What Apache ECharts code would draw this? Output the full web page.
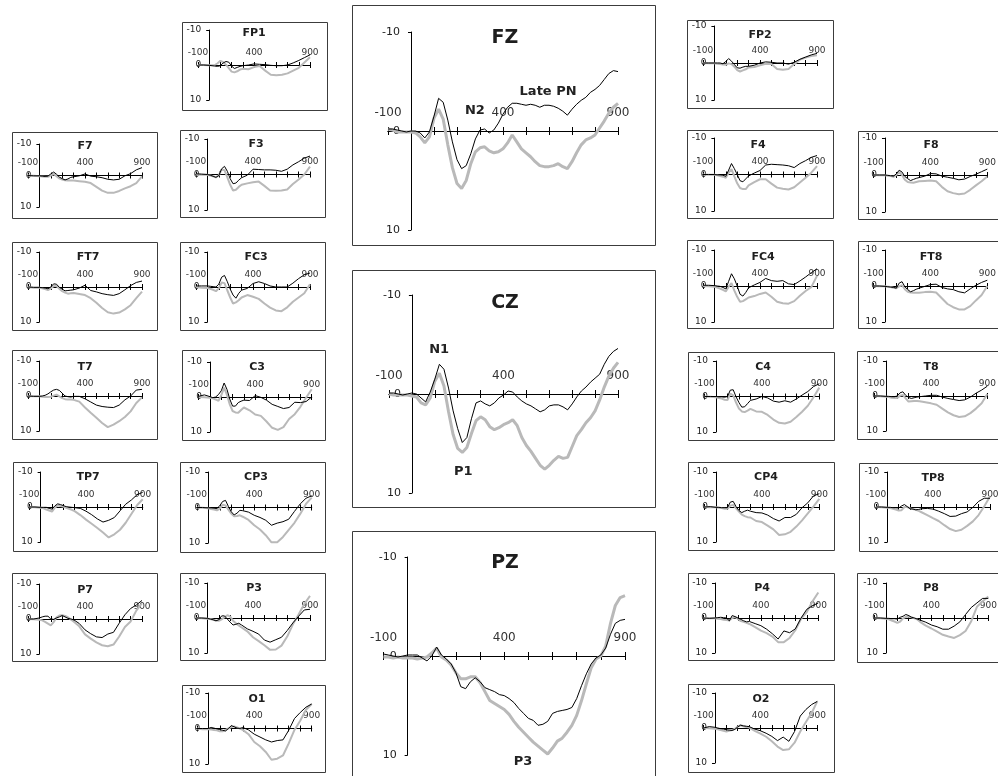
<!DOCTYPE html>
<html><head><meta charset="utf-8">
<script src="https://cdn.jsdelivr.net/npm/echarts@6/dist/echarts.min.js"></script>
<style>html,body{margin:0;padding:0;background:#fff}#chart{width:998px;height:776px}</style>
</head><body><div id="chart"></div><script>
// time axes (ms)
const tBig = [-100,-80,-60,-40,-20,0,20,40,60,80,100,120,140,160,180,200,220,240,260,280,300,320,340,360,380,400,420,440,460,480,500,520,540,560,580,600,620,640,660,680,700,720,740,760,780,800,820,840,860,880,900];
const tSmall = [-100,-50,0,25,50,75,100,125,150,175,200,225,250,275,300,350,400,450,500,550,600,650,700,750,800,850,900];
const xTickLabels = [-100, 400, 900];
const yTickLabels = [-10, 0, 10];

// central electrodes (black thin / grey thick)
const FZ_black = [-0.2,-0.2,-0.1,0.0,0.1,0.0,0.0,0.2,0.7,0.1,-1.5,-3.3,-2.9,-1.1,1.1,2.9,3.8,3.5,2.3,0.8,-0.1,-0.2,0.2,-0.1,-0.8,-1.7,-2.4,-2.8,-2.8,-2.7,-2.6,-2.7,-2.6,-2.4,-2.6,-2.6,-2.5,-2.3,-2.0,-1.6,-2.2,-2.7,-3.1,-3.4,-3.9,-4.2,-4.6,-5.2,-5.8,-6.1,-6.0];
const FZ_grey = [-0.2,-0.1,0.1,0.1,0.1,0.1,0.2,0.6,1.2,0.6,-1.3,-2.2,-1.2,1.4,3.7,5.3,5.8,5.0,3.3,2.1,1.7,1.6,2.0,2.2,2.1,1.8,1.2,0.4,1.1,1.8,2.2,2.6,3.1,3.5,3.6,3.6,3.5,3.3,3.6,3.8,3.1,2.2,1.4,0.9,0.7,0.4,-0.3,-1.0,-1.8,-2.4,-2.8];
const CZ_black = [-0.1,-0.1,0.0,0.1,0.0,-0.1,0.0,0.4,0.8,-0.2,-1.5,-3.0,-2.5,-0.6,1.7,3.5,4.9,4.4,2.5,0.9,0.7,1.0,1.2,0.9,0.4,0.1,-0.3,-0.2,0.3,0.7,1.0,1.2,1.5,1.8,1.6,1.2,1.1,1.1,1.3,1.6,1.0,0.3,-0.3,-0.7,-1.2,-1.6,-2.0,-3.0,-3.8,-4.3,-4.6];
const CZ_grey = [0.0,0.1,0.1,0.1,0.1,0.2,0.3,0.9,1.1,0.4,-1.3,-2.1,-0.8,1.8,4.1,5.5,5.9,5.4,4.0,2.7,2.3,2.6,3.3,3.6,3.4,3.1,2.9,2.6,3.2,4.4,5.2,5.8,6.5,7.2,7.6,7.2,6.7,6.3,6.5,6.4,5.3,4.2,3.6,2.9,2.4,1.7,0.6,-0.7,-1.8,-2.6,-3.2];
const PZ_black = [-0.2,-0.1,0.0,0.1,0.0,-0.1,-0.1,-0.1,0.2,0.5,0.0,-0.9,-0.1,0.3,0.8,1.7,3.1,3.3,2.6,2.2,2.6,3.2,3.4,3.6,3.9,4.0,4.3,4.7,5.3,5.8,6.3,6.5,7.0,6.9,6.6,5.8,5.6,5.5,5.4,5.2,4.3,3.0,1.8,0.8,0.2,-0.1,-0.8,-2.2,-3.3,-3.6,-3.7];
const PZ_grey = [0.1,0.1,0.2,0.1,0.2,0.2,0.2,0.3,0.2,0.1,-0.3,-0.8,0.1,0.4,0.9,1.7,2.3,2.3,2.1,2.1,2.7,3.6,4.5,4.8,5.1,5.4,5.9,6.6,7.2,7.7,8.2,8.7,9.1,9.5,9.9,9.3,8.6,8.3,7.7,7.0,6.0,4.5,2.8,1.2,0.3,0.0,-1.0,-3.3,-5.1,-5.9,-6.1];

// lateral electrodes
const FP1_black = [0,0,0.1,0.2,0.3,0.4,0.2,-0.6,-1.0,-0.8,0.3,1.0,0.7,0.4,0.2,0.0,-0.3,-0.2,-0.1,0.1,0.2,0.2,0.0,-0.6,-1.3,-2.1,-2.9];
const FP1_grey = [0,0,0.1,0.1,0.0,-0.5,-1.2,-0.8,-0.1,0.9,1.9,2.1,1.8,1.3,1.1,1.2,0.6,0.3,1.6,2.8,2.9,2.8,2.4,1.6,0.8,-0.7,-2.2];
const F7_black = [0,0.1,0.1,0.2,0.3,0.2,-0.5,-1.1,-0.4,0.5,1.0,1.4,1.1,0.6,0.4,0.1,-0.5,0.2,0.4,0.7,1.2,1.4,1.2,0.1,-0.6,-1.8,-2.5];
const F7_grey = [0,0.1,0.2,0.3,0.4,0.4,0.0,-0.5,0.2,0.9,1.3,1.5,1.6,1.6,1.6,1.8,2.0,2.4,3.6,4.8,5.5,5.5,4.9,4.1,3.4,2.4,0.3];
const F3_black = [-0.2,-0.1,0.0,0.2,0.5,0.8,0.3,-1.6,-2.3,-0.9,1.2,2.6,2.4,1.6,0.9,0.2,-1.5,-1.4,-1.3,-1.3,-1.2,-0.9,-1.5,-2.7,-3.6,-4.6,-5.2];
const F3_grey = [0,0.1,0.1,0.3,0.5,0.8,0.2,-1.4,-1.2,0.8,2.9,4.5,4.3,3.5,2.9,2.5,2.2,2.0,3.2,4.5,4.6,4.5,4.2,2.7,1.4,0.0,-2.2];
const FT7_black = [0,0.1,0.1,0.2,0.3,0.5,0.0,-0.9,-0.8,0.1,0.6,1.1,1.0,0.9,0.8,0.3,-0.5,1.0,1.4,1.9,2.2,2.4,1.9,0.8,-0.4,-1.3,-1.7];
const FT7_grey = [0,0.2,0.2,0.4,0.6,0.9,0.4,-0.3,-0.3,0.5,1.2,1.6,1.9,1.8,1.7,2.0,2.3,3.2,4.5,6.0,7.2,7.6,7.3,6.4,5.2,3.2,1.3];
const FC3_black = [-0.3,-0.3,-0.3,-0.2,-0.1,0.0,-0.8,-2.8,-3.3,-1.5,0.6,2.3,3.2,1.8,0.9,0.4,-1.0,-1.5,-1.0,-0.3,0.0,0.0,0.0,-1.1,-2.4,-3.5,-4.0];
const FC3_grey = [0,0.2,0.3,0.5,0.8,1.2,0.4,-1.3,-1.1,1.0,3.0,4.7,4.4,3.8,3.0,2.3,2.8,3.4,4.7,5.9,6.7,6.9,5.8,4.2,3.0,1.8,-0.8];
const T7_black = [0,0.1,0.1,0.0,-0.2,-0.6,-1.2,-1.7,-1.9,-1.6,-0.8,0.0,0.2,0.3,0.1,0.1,0.8,1.7,2.6,3.0,3.2,3.3,2.6,1.1,0.0,-1.7,-1.9];
const T7_grey = [0,0.1,0.1,0.2,0.3,0.3,0.2,-0.1,-0.4,0.1,0.6,0.9,1.0,1.0,1.1,1.6,3.3,4.8,6.2,7.7,8.9,8.2,7.2,6.0,4.4,2.0,0.4];
const C3_black = [-0.2,-0.6,-0.1,0.2,0.0,-0.7,-1.8,-4.0,-2.2,0.6,2.6,2.6,1.6,1.2,0.9,1.0,-0.4,0.1,0.9,2.1,2.7,3.3,3.0,1.5,1.6,1.3,0.0];
const C3_grey = [0,0.1,0.2,0.4,0.7,1.1,-0.5,-2.7,-0.6,2.1,4.0,4.4,4.5,3.7,3.0,3.8,5.0,5.4,7.0,8.8,9.4,8.6,6.3,4.9,2.8,0.2,-2.2];
const TP7_black = [0,0,0.1,0.1,0.1,0.4,0.6,-0.3,-0.9,-0.7,-0.4,-0.1,0.0,0.1,0.2,0.4,1.2,2.2,3.4,4.3,3.8,3.0,1.1,-0.8,-2.0,-3.5,-4.2];
const TP7_grey = [0,0.1,0.2,0.4,0.7,1.0,1.3,0.2,-0.5,-0.3,-0.1,0.2,0.5,0.8,1.2,2.3,3.6,4.8,6.0,7.3,8.7,7.8,6.5,4.5,2.0,-0.5,-2.2];
const CP3_black = [0,0,0.1,0.1,0.2,0.3,-0.5,-1.7,-2.0,-0.3,1.2,2.1,1.6,0.8,0.9,1.3,2.2,2.8,3.6,5.0,4.4,4.0,3.3,1.1,-1.0,-2.6,-3.3];
const CP3_grey = [0,0.1,0.2,0.4,0.6,0.8,0.3,-0.8,-0.6,0.6,1.7,2.5,2.4,2.2,2.6,3.5,5.0,6.2,7.8,9.8,9.8,8.3,6.3,4.3,1.8,-1.0,-2.8];
const P7_black = [0,0,-0.3,-0.6,-0.8,-0.8,0.0,0.1,-0.3,-0.6,-1.0,-0.6,-0.2,0.0,0.2,1.3,3.1,4.2,5.1,5.3,4.3,3.8,1.2,-1.2,-3.0,-4.0,-5.3];
const P7_grey = [0,0.1,0.2,0.4,0.8,1.3,1.8,0.9,-0.5,-1.0,-1.1,-0.9,-0.5,0.1,0.7,2.1,4.4,5.6,6.7,7.5,7.8,7.3,5.0,2.3,0.7,-2.4,-4.5];
const P3_black = [0,0,0.1,0.3,0.5,0.8,0.5,-0.6,-0.6,0.3,1.2,2.0,1.8,1.5,2.0,3.1,3.8,4.6,6.3,6.9,6.2,5.5,3.6,1.4,-0.5,-2.3,-2.5];
const P3_grey = [0,0.1,0.2,0.3,0.5,0.7,0.8,0.4,-0.2,-0.8,-0.4,0.8,1.5,2.1,2.7,3.8,5.5,6.6,7.8,9.1,9.0,7.9,5.3,1.8,-1.0,-4.0,-6.3];
const O1_black = [0,0,0.0,-0.3,-0.1,0.1,0.3,0.5,0.7,0.0,-0.8,-0.5,-0.1,0.0,-0.3,0.4,1.6,2.4,3.2,3.8,3.4,3.2,0.5,-2.8,-4.5,-6.0,-6.9];
const O1_grey = [0,0.2,0.2,0.3,0.4,0.5,0.8,0.8,0.4,0.0,-0.4,-0.6,-0.3,0.0,0.4,1.6,3.8,5.0,6.6,8.8,8.5,7.6,4.2,0.4,-2.2,-5.3,-6.9];
const FP2_black = [0,0,0.0,0.0,0.0,0.2,-0.4,-1.2,-0.5,0.4,1.3,1.4,1.1,0.9,0.9,0.6,0.0,-0.3,-0.2,0.0,0.0,0.3,-0.2,-1.0,-1.6,-2.2,-2.6];
const FP2_grey = [0,0.1,0.1,0.2,0.3,0.4,0.5,0.1,0.3,1.0,1.9,2.3,2.0,1.7,1.2,1.1,0.6,0.2,0.3,1.6,1.8,1.6,0.3,-0.9,-1.5,-1.9,-2.1];
const F4_black = [0,0,0.0,0.1,0.1,0.2,0.5,-1.2,-3.0,-1.6,0.0,1.7,2.0,1.2,0.4,-0.4,-1.1,-2.6,-2.8,-2.7,-2.6,-2.4,-1.9,-3.0,-3.8,-4.7,-5.2];
const F4_grey = [0,0.1,0.1,0.2,0.4,0.6,0.9,-0.5,-1.5,0.5,2.4,3.7,4.0,4.0,3.0,2.1,1.3,1.3,2.5,3.6,3.9,4.1,3.5,2.2,0.9,-0.5,-2.3];
const F8_black = [0,0,0.0,0.1,0.2,0.3,-0.3,-1.3,-0.8,0.4,1.0,1.5,1.2,0.9,0.7,0.3,-0.4,-0.3,0.3,0.6,0.9,1.3,1.1,0.4,-0.2,-0.9,-1.6];
const F8_grey = [0,0.1,0.1,0.2,0.3,0.5,0.0,-0.8,0.0,1.3,1.9,2.0,2.1,1.9,1.7,1.6,1.5,1.7,3.2,4.4,4.9,5.2,5.0,4.0,2.8,1.7,0.4];
const FC4_black = [-0.2,-0.2,-0.1,0.0,0.1,0.4,0.8,-1.3,-3.4,-2.0,0.0,2.3,2.8,1.8,0.5,-0.3,-1.0,-2.1,-1.5,-1.3,-1.5,-0.6,-0.4,-1.4,-2.5,-3.7,-4.8];
const FC4_grey = [0,0.1,0.2,0.4,0.7,1.1,1.5,0.2,-0.8,1.3,3.0,4.4,4.2,3.7,3.2,2.8,2.2,1.8,3.0,4.4,4.8,4.9,4.2,2.7,1.4,0.3,-2.8];
const FT8_black = [0,0,0.1,0.2,0.3,0.4,0.6,-0.8,-1.2,0.2,1.0,1.6,1.3,0.9,0.6,0.1,-0.4,-0.5,0.4,0.8,1.0,1.6,1.9,0.8,-0.2,-1.0,-1.6];
const FT8_grey = [0,0.1,0.1,0.2,0.3,0.5,0.6,0.1,-0.2,0.9,1.6,1.8,1.9,1.9,1.9,1.7,1.6,1.8,3.4,5.0,5.9,6.5,6.5,5.6,4.0,2.5,0.0];
const C4_black = [0,0,0.0,0.1,0.1,0.2,0.0,-1.8,-1.9,0.1,1.7,3.0,2.9,2.0,1.1,0.7,0.0,0.4,1.3,1.6,1.2,1.6,0.7,-0.4,-1.4,-2.8,-3.6];
const C4_grey = [0,0.1,0.2,0.4,0.6,0.9,1.0,-0.8,-0.3,1.7,3.4,4.2,4.4,4.0,3.5,4.2,4.3,5.2,6.5,7.4,7.6,7.1,5.8,4.3,2.6,0.2,-2.5];
const T8_black = [0,0,0.1,0.1,0.2,0.2,0.0,-0.9,-1.2,-0.2,0.4,0.7,0.5,0.3,0.2,0.0,-0.2,-0.2,0.3,0.7,1.0,1.3,1.1,0.3,-0.8,-1.7,-2.8];
const T8_grey = [0,0.1,0.2,0.3,0.5,0.6,0.6,-0.1,-0.3,0.7,1.6,1.5,1.4,1.4,1.5,1.8,2.1,2.5,3.6,4.7,5.5,6.0,5.8,4.9,3.6,2.1,-0.6];
const CP4_black = [0,-0.1,0.1,0.1,0.2,0.2,0.2,-1.4,-1.6,-0.1,1.0,1.6,1.2,0.9,1.2,1.6,1.7,2.3,3.3,4.0,3.0,3.0,2.1,0.2,-1.2,-3.2,-3.8];
const CP4_grey = [0,0.1,0.1,0.2,0.3,0.5,0.5,-0.4,-0.6,0.4,1.3,2.2,2.6,2.9,3.0,4.0,4.3,5.3,6.4,8.0,7.8,7.1,5.6,3.8,1.8,-0.2,-2.3];
const TP8_black = [0,0,0.1,0.1,0.2,0.2,0.3,-0.3,-0.7,-0.1,0.5,0.6,0.8,0.7,0.5,0.4,0.6,1.2,1.9,2.7,2.6,1.9,1.4,0.1,-1.6,-2.5,-2.5];
const TP8_grey = [0,0.1,0.2,0.3,0.5,0.7,1.0,0.9,0.0,0.0,0.4,0.6,0.8,1.1,1.5,2.3,3.2,4.0,5.2,6.3,6.9,6.5,5.4,4.1,2.3,-0.2,-3.0];
const P4_black = [0,0.1,0.0,-0.1,-0.2,-0.1,0.0,0.8,-0.7,-0.4,0.0,0.4,0.8,1.1,1.0,1.6,2.2,3.2,4.5,6.0,3.7,4.2,3.1,0.0,-2.5,-3.5,-4.3];
const P4_grey = [0,0.1,0.1,0.2,0.3,0.5,0.6,0.7,0.0,-0.3,0.3,0.9,1.1,1.4,1.7,2.6,3.6,4.3,5.3,6.9,6.9,5.7,3.5,0.2,-1.7,-4.8,-7.3];
const P8_black = [0,0,0.1,0.1,0.2,0.2,0.3,-0.2,-0.5,-1.0,-0.7,-0.2,0.0,0.3,0.6,1.2,2.0,2.5,3.2,3.2,2.3,1.1,-1.0,-3.0,-4.3,-5.6,-5.6];
const P8_grey = [0,0.1,0.2,0.4,0.7,1.0,1.4,1.0,0.1,-0.3,-0.4,-0.2,0.1,0.4,1.1,2.2,3.0,3.9,4.8,5.3,5.7,4.9,3.7,0.9,-3.2,-4.8,-6.1];
const O2_black = [0,-0.4,-0.2,0.0,0.2,0.3,0.5,0.6,0.7,0.4,-0.3,-0.8,-0.6,-0.5,-0.4,0.3,0.8,1.5,2.4,3.6,2.6,3.8,1.0,-3.4,-5.3,-6.7,-7.6];
const O2_grey = [0,0.1,0.2,0.4,0.6,0.8,1.0,0.8,0.6,0.2,-0.4,-0.8,-0.5,-0.3,-0.2,0.8,1.6,2.5,3.8,5.3,6.3,6.1,4.2,1.0,-1.7,-4.3,-7.6];

const waves = {
  FZ:[FZ_black,FZ_grey], CZ:[CZ_black,CZ_grey], PZ:[PZ_black,PZ_grey],
  FP1:[FP1_black,FP1_grey], F7:[F7_black,F7_grey], F3:[F3_black,F3_grey],
  FT7:[FT7_black,FT7_grey], FC3:[FC3_black,FC3_grey], T7:[T7_black,T7_grey],
  C3:[C3_black,C3_grey], TP7:[TP7_black,TP7_grey], CP3:[CP3_black,CP3_grey],
  P7:[P7_black,P7_grey], P3:[P3_black,P3_grey], O1:[O1_black,O1_grey],
  FP2:[FP2_black,FP2_grey], F4:[F4_black,F4_grey], F8:[F8_black,F8_grey],
  FC4:[FC4_black,FC4_grey], FT8:[FT8_black,FT8_grey], C4:[C4_black,C4_grey],
  T8:[T8_black,T8_grey], CP4:[CP4_black,CP4_grey], TP8:[TP8_black,TP8_grey],
  P4:[P4_black,P4_grey], P8:[P8_black,P8_grey], O2:[O2_black,O2_grey]
};

const annotations = [
  {ch:'FZ', text:'N2', t:278, v:-2.1},
  {ch:'FZ', text:'Late PN', t:596, v:-4.0},
  {ch:'CZ', text:'N1', t:119, v:-4.5},
  {ch:'CZ', text:'P1', t:224, v:7.8},
  {ch:'PZ', text:'P3', t:478, v:10, dy:7}
];

// layout (pixels): box [l,t,r,b], plot [xLeft(-100ms),xRight(900ms),yTop(-10),yBottom(10)], title [cx,cy]
const panels = [
  {ch:'FZ', big:true, box:[352,5,655,245], plot:[388,618,32,230], title:[505,38]},
  {ch:'CZ', big:true, box:[352,270,655,507], plot:[389,618,295,493], title:[505,303]},
  {ch:'PZ', big:true, box:[352,531,655,792], plot:[383.5,625,557,755], title:[505,563]},
  {ch:'FP1', box:[182,22,327,110], plot:[198,310,30,100], title:[254,33]},
  {ch:'F7', box:[12,132,157,218], plot:[28,142,144,207], title:[85,146]},
  {ch:'F3', box:[180,130,325,217], plot:[196,310,139,210], title:[256,144]},
  {ch:'FT7', box:[12,242,157,330], plot:[28,142,252,322], title:[88,257]},
  {ch:'FC3', box:[180,242,325,330], plot:[196,310,252,322], title:[256,257]},
  {ch:'T7', box:[12,350,157,439], plot:[28,142,361,431], title:[85,367]},
  {ch:'C3', box:[182,350,325,440], plot:[198.7,311.7,362,432], title:[257,367]},
  {ch:'TP7', box:[13,462,157,551], plot:[29.3,142.7,472,542], title:[88,477]},
  {ch:'CP3', box:[180,462,325,552], plot:[196.8,311.7,472,543], title:[256,477]},
  {ch:'P7', box:[12,573,157,661], plot:[28,142,584,654], title:[85,590]},
  {ch:'P3', box:[180,573,325,660], plot:[196,310,583,653], title:[254,588]},
  {ch:'O1', box:[182,685,325,772], plot:[196.8,311.7,693,764], title:[257,699]},
  {ch:'FP2', box:[687,20,833,108], plot:[703,817,26,100], title:[760,35]},
  {ch:'F4', box:[687,130,833,218], plot:[703,817,138,211], title:[758,145]},
  {ch:'F8', box:[858,131,1003,219], plot:[873.6,987.3,138,212], title:[931,145]},
  {ch:'FC4', box:[687,240,833,328], plot:[703,817,250,322], title:[763,257]},
  {ch:'FT8', box:[858,241,1003,328], plot:[873.6,987.3,250,322], title:[931,257]},
  {ch:'C4', box:[688,352,834,440], plot:[704.5,819.3,361,432], title:[763,367]},
  {ch:'T8', box:[857,351,1003,439], plot:[874.7,987.3,361,431], title:[931,367]},
  {ch:'CP4', box:[688,462,834,550], plot:[704.5,819.3,472,542], title:[766,477]},
  {ch:'TP8', box:[859,463,1003,551], plot:[875.9,990,472,542], title:[933,478]},
  {ch:'P4', box:[688,573,834,660], plot:[703.5,818.3,583,653], title:[762,588]},
  {ch:'P8', box:[857,573,1003,662], plot:[874.6,988.3,583,653], title:[931,588]},
  {ch:'O2', box:[688,684,834,772], plot:[703.6,817.3,693,763], title:[761,699]}
];

const chart = echarts.init(document.getElementById('chart'), null, {renderer:'canvas'});
const grid = [], xAxis = [], yAxis = [], series = [], graphic = [];
const FONT = 'DejaVu Sans';
const LS = {color:'#000', width:1};
const hiddenAxis = (gi, min, max, inverse) => ({gridIndex:gi, type:'value', min, max, inverse: !!inverse, show:false,
  axisLine:{show:false, onZero:false}, axisTick:{show:false}, axisLabel:{show:false}, splitLine:{show:false}});
const baseGrid = (l, t, w, h) => ({left:l, top:t, width:w, height:h, containLabel:false, outerBoundsMode:'none'});

panels.forEach((p, i) => {
  const big = !!p.big;
  const [xL, xR, yT, yB] = p.plot;
  const W = xR - xL, H = yB - yT, half = H / 2;
  const x0 = xL + W * 0.1; // position of 0 ms
  const g = grid.length;
  const tickLen = big ? 4 : 3;
  // 0: data grid
  grid.push(baseGrid(xL, yT, W, H));
  xAxis.push(hiddenAxis(g, -100, 900));
  yAxis.push(hiddenAxis(g, -10, 10, true));
  // 1: upper half -> x axis line on 0 with upward ticks and labels
  grid.push(baseGrid(xL, yT, W, half));
  xAxis.push({gridIndex:g+1, type:'value', min:-100, max:900, interval:100, position:'bottom',
    axisLine:{show:true, onZero:false, lineStyle:LS},
    axisTick:{show:true, inside:true, length:tickLen, lineStyle:LS},
    axisLabel:{show:true, inside:true, margin: big ? 12 : 8, fontSize: big ? 12 : 9, fontFamily:FONT, color:'#333',
      formatter: v => xTickLabels.indexOf(Math.round(v)) >= 0 ? String(Math.round(v)) : ''},
    splitLine:{show:false}});
  yAxis.push(hiddenAxis(g+1, -10, 0, true));
  // 2: lower half -> downward ticks on 0 line
  grid.push(baseGrid(xL, yT + half, W, half));
  xAxis.push({gridIndex:g+2, type:'value', min:-100, max:900, interval:100, position:'top',
    axisLine:{show:true, onZero:false, lineStyle:LS},
    axisTick:{show:true, inside:true, length:tickLen, lineStyle:LS},
    axisLabel:{show:false}, splitLine:{show:false}});
  yAxis.push(hiddenAxis(g+2, 0, 10, true));
  // 3: y axis at 0 ms
  grid.push(baseGrid(x0, yT, xR - x0, H));
  xAxis.push(hiddenAxis(g+3, 0, 900));
  yAxis.push({gridIndex:g+3, type:'value', min:-10, max:10, interval:10, inverse:true, position:'left',
    axisLine:{show:true, onZero:false, lineStyle:LS},
    axisTick:{show:true, inside:false, length:3, lineStyle:LS},
    axisLabel:{show:true, margin: big ? 11 : 8, fontSize: big ? 11 : 9, fontFamily:FONT, color:'#222',
      formatter: v => yTickLabels.indexOf(Math.round(v)) >= 0 ? String(Math.round(v)) : ''},
    splitLine:{show:false}});

  const t = big ? tBig : tSmall;
  const [blk, gry] = waves[p.ch];
  series.push({type:'line', name:p.ch + ' grey', xAxisIndex:g, yAxisIndex:g, symbol:'none', silent:true, z:2,
    data: t.map((x, k) => [x, gry[k]]),
    lineStyle:{color:'#b9b9b9', width: big ? 3 : 2}});
  const anns = annotations.filter(a => a.ch === p.ch);
  const s = {type:'line', name:p.ch + ' black', xAxisIndex:g, yAxisIndex:g, symbol:'none', silent:true, z:3,
    data: t.map((x, k) => [x, blk[k]]),
    lineStyle:{color:'#000', width:1}};
  if (anns.length) {
    s.markPoint = {symbol:'circle', symbolSize:1, silent:true, animation:false,
      itemStyle:{color:'rgba(0,0,0,0)'},
      label:{show:true, position:'inside', formatter:'{b}', fontSize:13, fontWeight:'bold', fontFamily:FONT, color:'#222'},
      data: anns.map(a => ({name:a.text, coord:[a.t, a.v], label: a.dy ? {offset:[0, a.dy]} : {}}))};
  }
  series.push(s);
  const b = p.box;
  graphic.push({type:'rect', silent:true, z:0,
    shape:{x:b[0] + 0.5, y:b[1] + 0.5, width:b[2] - b[0], height:b[3] - b[1]},
    style:{fill:'none', stroke:'#3c3c3c', lineWidth:1}});
  graphic.push({type:'text', silent:true, z:5, x:p.title[0], y:p.title[1],
    style:{text:p.ch, fill:'#1e1e1e', font:(big ? 'bold 19px ' : 'bold 11px ') + '"DejaVu Sans"',
      fontSize: big ? 19 : 11, fontWeight:'bold', fontFamily:FONT,
      align:'center', verticalAlign:'middle', textAlign:'center', textVerticalAlign:'middle'}});
});

chart.setOption({animation:false, backgroundColor:'#fff', grid, xAxis, yAxis, series, graphic});
</script></body></html>
